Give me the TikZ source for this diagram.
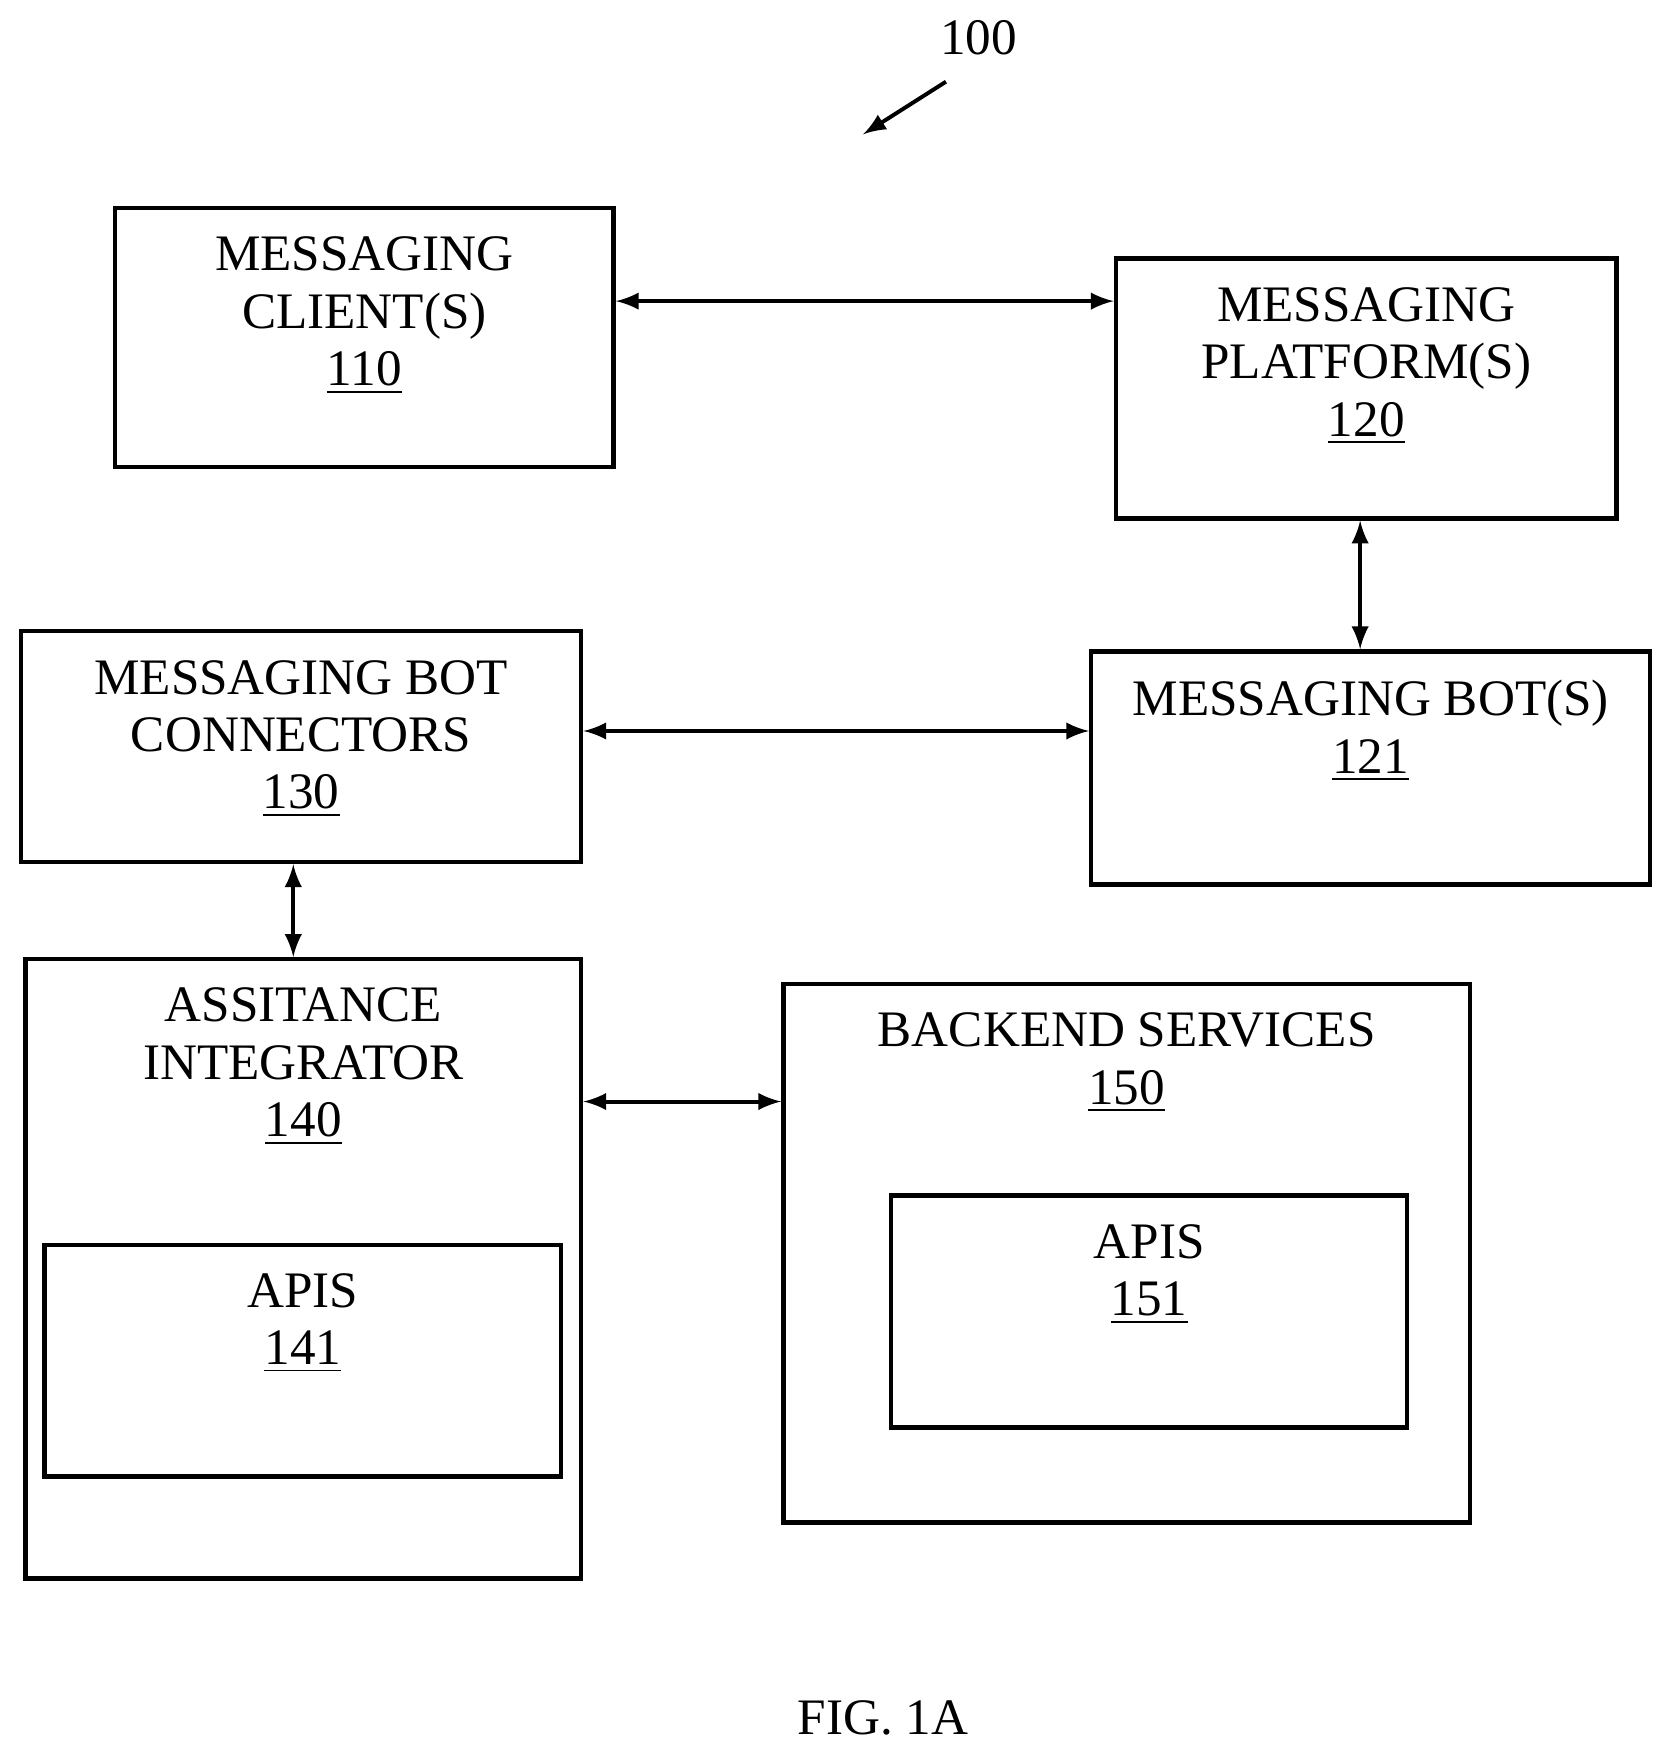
\documentclass[tikz,border=0pt]{standalone}
\usepackage{fontspec}
\setmainfont{Liberation Serif}
\usetikzlibrary{positioning}
\tikzset{
  blk/.style={draw, line width=1.1pt, rectangle, inner sep=0pt},
  txt/.style={anchor=north, align=center, inner sep=0pt, font=\fontsize{13}{14.6}\selectfont},
  link/.style={<->, line width=1pt}
}
\begin{document}
\begin{tikzpicture}[>=latex, x=0.01cm, y=-0.01cm]
  \useasboundingbox (0,0) rectangle (1500,1574);

  % boxes
  \node [blk, minimum width=4.45cm, minimum height=2.31cm] (client) at (325.5,301.5) {};
  \node [blk, minimum width=4.47cm, minimum height=2.32cm] (platform) at (1220.5,347) {};
  \node [blk, minimum width=4.99cm, minimum height=2.08cm] (bot) at (1224.5,686) {};
  \node [blk, minimum width=5.00cm, minimum height=2.06cm] (conn) at (269,667) {};
  \node [blk, minimum width=4.96cm, minimum height=5.53cm] (integ) at (271,1133.5) {};
  \node [blk, minimum width=4.61cm, minimum height=2.07cm] (apia) at (270.5,1215.5) {};
  \node [blk, minimum width=6.13cm, minimum height=4.81cm] (backend) at (1006.5,1119.5) {};
  \node [blk, minimum width=4.61cm, minimum height=2.07cm] (apib) at (1026.5,1171.5) {};

  % labels
  \node [txt, below=0.27cm of client.north] {MESSAGING\\CLIENT(S)\\\underline{110}};
  \node [txt, below=0.27cm of platform.north] {MESSAGING\\PLATFORM(S)\\\underline{120}};
  \node [txt, below=0.27cm of bot.north] {MESSAGING BOT(S)\\\underline{121}};
  \node [txt, below=0.27cm of conn.north] {MESSAGING BOT\\CONNECTORS\\\underline{130}};
  \node [txt, below=0.27cm of integ.north] {ASSITANCE\\INTEGRATOR\\\underline{140}};
  \node [txt, below=0.27cm of apia.north] {APIS\\\underline{141}};
  \node [txt, below=0.27cm of backend.north] {BACKEND SERVICES\\\underline{150}};
  \node [txt, below=0.27cm of apib.north] {APIS\\\underline{151}};

  % connectors
  \draw [link] (client.east |- 0,269) -- (platform.west |- 0,269);
  \draw [link] (platform.south -| 1215,0) -- (bot.north -| 1215,0);
  \draw [link] (conn.east |- 0,653) -- (bot.west |- 0,653);
  \draw [link] (conn.south -| 262,0) -- (integ.north -| 262,0);
  \draw [link] (integ.east |- 0,984) -- (backend.west |- 0,984);

  % reference numeral and caption
  \node [txt, anchor=center] (ref) at (874,34) {100};
  \coordinate (reftail) at (845,73);
  \coordinate (refhead) at (771,120);
  \draw [->, line width=1pt] (reftail) -- (refhead);
  \node [txt, anchor=center] (fig) at (789,1535) {FIG. 1A};
\end{tikzpicture}
\end{document}
